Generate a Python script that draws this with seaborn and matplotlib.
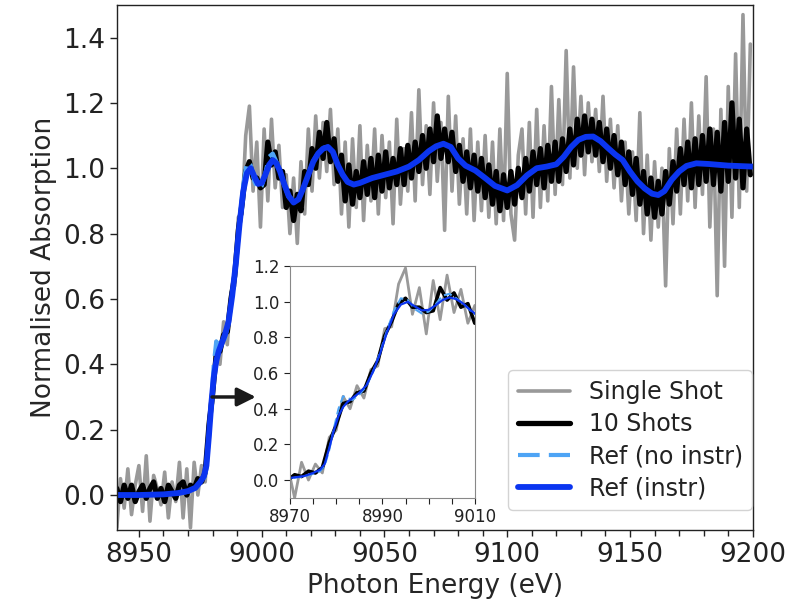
import numpy as np
import pandas as pd
import matplotlib
matplotlib.use("Agg")
import matplotlib.pyplot as plt
from matplotlib.ticker import MultipleLocator, FixedLocator
import seaborn as sns

# ---------------- data ----------------
# energy grid of the measured spectra (eV)
shot_energy = np.arange(8941.0, 9199.1, 1.5)

single_shot = [
    -0.10, 0.05, -0.04, 0.08, -0.06, 0.03, 0.09, -0.05, 0.12, -0.08,
    0.06, 0.02, -0.03, 0.07, -0.07, 0.04, -0.02, 0.10, -0.07, 0.08,
    -0.10, 0.10, 0.00, 0.09, 0.04, 0.24, 0.28, 0.47, 0.40, 0.53,
    0.46, 0.62, 0.64, 0.85, 0.86, 1.10, 1.19, 0.93, 1.08, 0.82,
    1.12, 0.90, 1.15, 0.94, 1.07, 0.88, 0.98, 0.80, 0.97, 0.77,
    1.02, 0.86, 1.12, 0.93, 1.16, 0.97, 1.14, 0.99, 1.18, 0.95,
    1.12, 0.86, 1.08, 0.82, 1.09, 0.88, 1.13, 0.84, 1.07, 0.90,
    1.12, 0.86, 1.10, 0.91, 1.08, 0.83, 1.15, 0.89, 1.06, 0.93,
    1.17, 0.90, 1.24, 0.95, 1.13, 0.92, 1.20, 0.96, 1.14, 0.81,
    1.22, 0.93, 1.16, 0.89, 1.09, 0.86, 1.12, 0.84, 1.08, 0.87,
    1.10, 0.85, 1.08, 0.83, 1.12, 0.84, 1.29, 0.86, 0.78, 1.04,
    1.12, 0.86, 1.14, 0.85, 1.18, 0.88, 1.13, 0.90, 1.25, 0.92,
    1.21, 0.95, 1.36, 0.97, 1.31, 1.00, 1.22, 0.98, 1.20, 1.02,
    1.18, 0.99, 1.22, 0.96, 1.15, 0.94, 1.13, 0.90, 1.08, 0.86,
    1.05, 0.84, 1.17, 0.80, 1.04, 0.78, 1.02, 0.82, 1.00, 0.64,
    1.06, 0.83, 1.12, 0.86, 1.15, 0.90, 1.20, 0.88, 1.16, 0.92,
    1.28, 0.82, 1.12, 0.61, 1.18, 0.70, 1.25, 0.85, 1.35, 0.88,
    1.47, 0.93, 1.38,
]

ten_shots = [
    0.02, -0.02, 0.03, -0.01, 0.03, -0.02, 0.01, 0.03, -0.01, 0.02,
    0.04, -0.01, 0.02, -0.02, 0.03, 0.01, -0.01, 0.03, 0.04, 0.00,
    0.03, 0.02, 0.05, 0.04, 0.07, 0.21, 0.31, 0.43, 0.44, 0.49,
    0.50, 0.60, 0.67, 0.81, 0.89, 0.99, 1.02, 0.97, 0.97, 0.94,
    0.95, 1.08, 1.01, 1.05, 0.97, 0.99, 0.88, 0.93, 0.84, 0.92,
    0.87, 0.99, 0.95, 1.06, 1.00, 1.11, 1.03, 1.14, 1.02, 1.09,
    0.96, 1.04, 0.90, 1.01, 0.89, 0.99, 0.91, 1.02, 0.92, 1.03,
    0.91, 1.04, 0.93, 1.05, 0.94, 1.03, 0.95, 1.06, 0.95, 1.07,
    0.97, 1.08, 0.99, 1.10, 1.00, 1.12, 1.02, 1.16, 1.03, 1.12,
    1.02, 1.11, 0.99, 1.07, 0.96, 1.05, 0.94, 1.04, 0.93, 1.03,
    0.91, 1.01, 0.89, 0.99, 0.87, 0.98, 0.88, 0.99, 0.89, 1.00,
    0.91, 1.03, 0.93, 1.05, 0.95, 1.06, 0.94, 1.07, 0.96, 1.08,
    0.96, 1.09, 0.99, 1.12, 1.01, 1.15, 1.04, 1.16, 1.05, 1.15,
    1.04, 1.14, 1.02, 1.12, 1.00, 1.10, 0.98, 1.08, 0.95, 1.05,
    0.92, 1.03, 0.89, 0.99, 0.86, 0.97, 0.85, 0.96, 0.86, 0.99,
    0.89, 1.02, 0.93, 1.06, 0.95, 1.08, 0.94, 1.09, 0.95, 1.10,
    0.96, 1.12, 0.95, 1.11, 0.93, 1.14, 0.96, 1.20, 0.97, 1.15,
    0.94, 1.12, 0.98,
]

ref_energy = [
    8941, 8950, 8960, 8966, 8970, 8973, 8975, 8976.5, 8977.5, 8978.5,
    8979.5, 8980.5, 8981.5, 8982.5, 8983.5, 8985, 8986.5, 8988, 8989.5, 8991,
    8992.5, 8994, 8995.5, 8997, 8998.5, 9000, 9001.5, 9003, 9004.5, 9006,
    9007.5, 9009, 9011, 9013, 9015, 9017, 9019, 9021, 9023, 9025,
    9027, 9029, 9031, 9033, 9035, 9037.5, 9040, 9045, 9050, 9055,
    9060, 9064, 9068, 9071, 9074, 9077, 9080, 9083, 9087, 9091,
    9095, 9100, 9104, 9108, 9112, 9116, 9120, 9123, 9126, 9129,
    9132, 9135, 9138, 9141, 9144, 9147, 9150, 9153, 9156, 9159,
    9161.5, 9164, 9167, 9170, 9173, 9177, 9182, 9190, 9200,
]

ref_instr = [
    0.000, 0.000, 0.002, 0.006, 0.012, 0.022, 0.040, 0.058, 0.090, 0.180,
    0.280, 0.360, 0.410, 0.440, 0.460, 0.490, 0.530, 0.610, 0.710, 0.830,
    0.930, 0.985, 1.000, 0.975, 0.952, 0.955, 0.980, 1.010, 1.025, 1.015,
    0.990, 0.955, 0.915, 0.895, 0.905, 0.940, 0.980, 1.020, 1.045, 1.060,
    1.065, 1.050, 1.010, 0.980, 0.958, 0.950, 0.955, 0.970, 0.980, 0.990,
    1.005, 1.025, 1.052, 1.067, 1.075, 1.065, 1.030, 1.008, 0.993, 0.970,
    0.946, 0.932, 0.948, 0.978, 1.000, 1.005, 1.012, 1.035, 1.065, 1.087,
    1.096, 1.097, 1.083, 1.062, 1.042, 1.025, 0.990, 0.960, 0.938, 0.922,
    0.918, 0.930, 0.965, 0.990, 1.007, 1.015, 1.013, 1.008, 1.005,
]

ref_no_instr = [
    0.000, 0.000, 0.002, 0.005, 0.010, 0.020, 0.035, 0.050, 0.080, 0.170,
    0.290, 0.400, 0.470, 0.460, 0.450, 0.480, 0.525, 0.610, 0.715, 0.840,
    0.950, 1.020, 1.010, 0.960, 0.935, 0.945, 0.985, 1.035, 1.045, 1.020,
    0.990, 0.952, 0.912, 0.893, 0.905, 0.940, 0.980, 1.022, 1.047, 1.062,
    1.066, 1.050, 1.010, 0.980, 0.958, 0.950, 0.955, 0.970, 0.980, 0.990,
    1.005, 1.025, 1.052, 1.067, 1.075, 1.065, 1.030, 1.008, 0.993, 0.970,
    0.946, 0.932, 0.948, 0.978, 1.000, 1.005, 1.012, 1.035, 1.065, 1.087,
    1.096, 1.097, 1.083, 1.062, 1.042, 1.025, 0.990, 0.960, 0.938, 0.922,
    0.918, 0.930, 0.965, 0.990, 1.007, 1.015, 1.013, 1.008, 1.005,
]

inset_xticks = [8970, 8990, 9010]

shots = pd.DataFrame({"energy": shot_energy, "single": single_shot, "ten": ten_shots})
refs = pd.DataFrame({"energy": ref_energy, "instr": ref_instr, "noinstr": ref_no_instr})

# ---------------- style ----------------
sns.set_theme(style="ticks")
plt.rcParams["font.family"] = ["DejaVu Sans"]
plt.rcParams["axes.edgecolor"] = "#222222"
plt.rcParams["xtick.color"] = "#222222"
plt.rcParams["ytick.color"] = "#222222"
plt.rcParams["text.color"] = "#222222"

C_GREY = "#999999"
C_BLACK = "#000000"
C_LIGHT = "#4ea4f5"
C_BLUE = "#0b35f0"

fig = plt.figure(figsize=(8.0, 6.05), dpi=100)
ax = fig.add_axes([0.146, 0.124, 0.795, 0.868])


def draw(axis, lws, with_labels):
    lab = (lambda s: s) if with_labels else (lambda s: None)
    sns.lineplot(data=shots, x="energy", y="single", ax=axis, color=C_GREY,
                 lw=lws[0], estimator=None, sort=False, label=lab("Single Shot"))
    sns.lineplot(data=shots, x="energy", y="ten", ax=axis, color=C_BLACK,
                 lw=lws[1], estimator=None, sort=False, label=lab("10 Shots"))
    sns.lineplot(data=refs, x="energy", y="noinstr", ax=axis, color=C_LIGHT,
                 lw=lws[2], estimator=None, sort=False, label=lab("Ref (no instr)"))
    axis.lines[-1].set_dashes([5.2, 2.2] if with_labels else [4, 2])
    sns.lineplot(data=refs, x="energy", y="instr", ax=axis, color=C_BLUE,
                 lw=lws[3], estimator=None, sort=False, label=lab("Ref (instr)"))


draw(ax, (2.6, 3.8, 3.0, 4.2), True)

ax.set_xlim(8941, 9200)
ax.set_ylim(-0.107, 1.5)
ax.xaxis.set_major_locator(MultipleLocator(50))
ax.xaxis.set_minor_locator(MultipleLocator(10))
ax.yaxis.set_major_locator(MultipleLocator(0.2))
ax.tick_params(axis="both", which="major", labelsize=19, length=5, width=1)
ax.tick_params(axis="x", which="minor", length=4, width=1)
ax.set_xlabel("Photon Energy (eV)", fontsize=19)
ax.set_ylabel("Normalised Absorption", fontsize=19)
for s in ax.spines.values():
    s.set_linewidth(1.0)
    s.set_visible(True)

ax.legend(loc="lower right", bbox_to_anchor=(0.999, 0.038), borderaxespad=0,
          fontsize=17, handlelength=2.2, labelspacing=0.35, frameon=True,
          framealpha=0.85, edgecolor="#cccccc")

ax.annotate("", xy=(8997.6, 0.30), xytext=(8979.8, 0.30),
            arrowprops=dict(arrowstyle="-|>", color="k", lw=2.5,
                            mutation_scale=28, shrinkA=0, shrinkB=0))

# ---------------- inset ----------------
axin = fig.add_axes([0.3625, 0.177, 0.231, 0.383])
draw(axin, (2.0, 2.6, 1.5, 1.6), False)
axin.set_xlim(8970, 9010)
axin.set_ylim(-0.1, 1.2)
axin.xaxis.set_major_locator(FixedLocator(inset_xticks))
axin.xaxis.set_minor_locator(MultipleLocator(5))
axin.yaxis.set_major_locator(MultipleLocator(0.2))
axin.tick_params(axis="both", which="major", labelsize=12, length=4, width=0.8)
axin.tick_params(axis="x", which="minor", length=4, width=0.8)
axin.set_xlabel("")
axin.set_ylabel("")
for s in axin.spines.values():
    s.set_linewidth(0.8)
    s.set_color("#888888")
    s.set_visible(True)
if axin.get_legend() is not None:
    axin.get_legend().remove()

fig.savefig("out.png", dpi=100)
